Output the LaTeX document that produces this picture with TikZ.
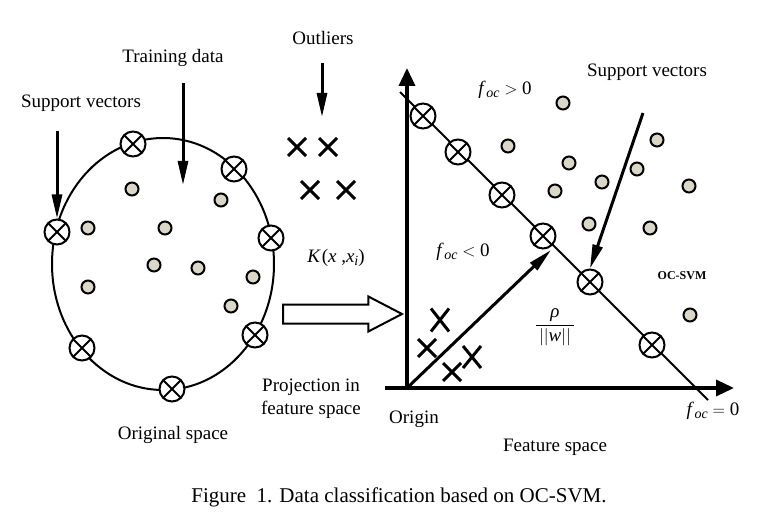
\documentclass[tikz,border=0pt]{standalone}
\usepackage{fontspec}
\setmainfont{Liberation Serif}
\usetikzlibrary{arrows.meta,shapes.arrows,shapes.misc}
\definecolor{dotfill}{RGB}{218,215,198}
\newcommand\foc{\textit{f}\kern0.5pt\raisebox{-0.35ex}{\fontsize{14}{16}\selectfont\textit{oc}}}
\tikzset{
  sv/.style={circle,draw,fill=white,line width=2pt,minimum size=25pt,inner sep=0pt,
    path picture={\draw[line width=2pt] (path picture bounding box.south west)--(path picture bounding box.north east)
      (path picture bounding box.north west)--(path picture bounding box.south east);}},
  dot/.style={circle,draw,fill=dotfill,line width=2pt,minimum size=13pt,inner sep=0pt},
  xmark/.style={cross out,draw,line width=3pt,minimum size=15pt,inner sep=0pt},
  lbl/.style={font=\fontsize{19}{22}\selectfont,inner sep=0pt},
  ptr/.style={line width=3pt,-{Triangle[length=24pt,width=10pt]}},
  axis/.style={line width=3.5pt,-{Triangle[length=18pt,width=16pt]}},
  bigarrow/.style={single arrow,draw,line width=2pt,fill=white,inner sep=0pt,
    minimum height=119pt,minimum width=33pt,single arrow head extend=8pt,
    single arrow tip angle=55,text width=0pt,text height=8.5pt,text depth=8.5pt},
}
\begin{document}
\begin{tikzpicture}[x=1pt,y=-1pt]
\useasboundingbox (0,0) rectangle (780,524);
% ---------- original space ----------
\coordinate (ec) at (163,264);
\draw[line width=2pt] (ec) ellipse [x radius=111pt, y radius=126pt];
\node[sv] (s1) at (133,144) {};
\node[sv] (s2) at (234,169) {};
\node[sv] (s3) at (271,238) {};
\node[sv] (s4) at (255,335) {};
\node[sv] (s5) at (172,389) {};
\node[sv] (s6) at (82,348) {};
\node[sv] (s7) at (57,232) {};
\foreach \p [count=\i] in {(132,189),(221,200),(88,228),(165,228),(154,265),(198,268),(253,277),(88,287),(231,306)}
  \node[dot] (d\i) at \p {};
% labels and pointers
\node[lbl] (lsv) at (81,103) {Support vectors};
\node[lbl] (ltd) at (173,58) {Training data};
\node[lbl] (lout) at (323,38) {Outliers};
\coordinate (psv) at (57,131);
\draw[ptr] (psv) -- (s7.north);
\coordinate (ptd1) at (183,83);
\coordinate (ptd2) at (183,185);
\draw[ptr] (ptd1) -- (ptd2);
\coordinate (pout1) at (322,63);
\coordinate (pout2) at (322,117);
\draw[ptr] (pout1) -- (pout2);
\node[xmark] (o1) at (297,147) {};
\node[xmark] (o2) at (328,147) {};
\node[xmark] (o3) at (310,190) {};
\node[xmark] (o4) at (346,190) {};
\node[lbl] (lk) at (336,258) {\textit{K}\kern1pt(\textit{x}\ ,\textit{x}\raisebox{-0.35ex}{\fontsize{14}{16}\selectfont\textit{i}})};
\node[bigarrow,anchor=tail] (proj) at (282,314) {};
\node[lbl,align=center] (lproj) at (311,399) {Projection in\\[1pt]feature space};
\node[lbl] (lorig) at (173,435) {Original space};
% ---------- feature space ----------
\coordinate (O) at (407,388);
\coordinate (ytop) at (407,68);
\coordinate (ybot) at (407,389.75);
\coordinate (xleft) at (385,388);
\coordinate (xright) at (734,388);
\draw[axis] (ybot) -- (ytop);
\draw[axis] (xleft) -- (xright);
\coordinate (L1) at (400,92);
\coordinate (L2) at (708,400);
\draw[line width=2pt] (L1) -- (L2);
\node[sv] (c1) at (423,116) {};
\node[sv] (c2) at (458,152) {};
\node[sv] (c3) at (502,195) {};
\node[sv] (c4) at (543,236) {};
\node[sv] (c5) at (590,282) {};
\node[sv] (c6) at (652,345) {};
\foreach \p [count=\i] in {(563,103),(508,146),(657,140),(569,163),(637,169),(602,182),(689,186),(555,191),(589,224),(650,228),(690,315)}
  \node[dot] (e\i) at \p {};
\node[xmark,minimum height=20pt] (x1) at (440,320) {};
\node[xmark] (x2) at (427,348) {};
\node[xmark] (x3) at (452,372) {};
\node[xmark,minimum height=19pt] (x4) at (472,357) {};
\coordinate (rtip) at (551,250);
\draw[ptr] (O) -- (rtip);
\node[lbl] (lrho) at (555,327) {$\displaystyle\frac{\textit{ρ}}{\,||\textit{w}||\,}$};
\node[lbl] (lpos) at (505,90) {\foc\ $>$\ 0};
\node[lbl] (lneg) at (463,252) {\foc\ $<$\ 0};
\node[lbl] (lzero) at (713,411) {\foc\ $=$\ 0};
\node[lbl] (lsv2) at (647,72) {Support vectors};
\coordinate (psv2) at (643,113);
\draw[ptr] (psv2) -- (c5.north);
\node[font=\fontsize{12}{14}\selectfont\bfseries,inner sep=0pt] (locsvm) at (682,276) {OC-SVM};
\node[lbl] (lorg) at (414,419) {Origin};
\node[lbl] (lfs) at (555,447) {Feature space};
\node[font=\fontsize{21}{24}\selectfont,inner sep=0pt] (cap) at (399,497) {Figure\ \ 1. Data classification based on OC-SVM.};
\end{tikzpicture}
\end{document}
